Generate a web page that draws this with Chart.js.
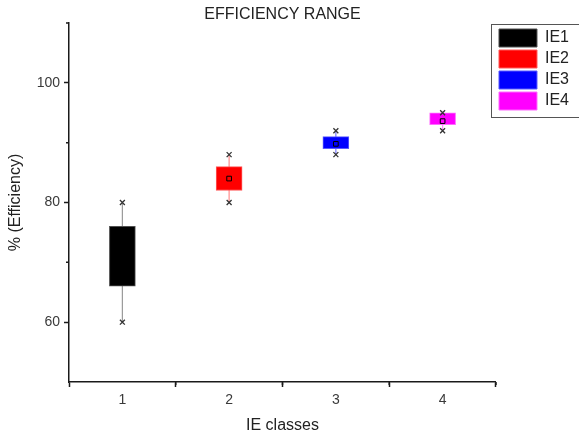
<!DOCTYPE html>
<html>
<head>
<meta charset="utf-8">
<title>Efficiency range</title>
<script src="https://cdn.jsdelivr.net/npm/chart.js@4.4.0/dist/chart.umd.min.js"></script>
<style>
    body { margin: 0; background: #fff; }
    #wrap { width: 579px; height: 435px; }
</style>
</head>
<body>
<div id="wrap"><canvas id="chart" width="579" height="435"></canvas></div>
<script>
// values
const classes = [1, 2, 3, 4];
const classNames = ['IE1', 'IE2', 'IE3', 'IE4'];
const whiskerLow = [60, 80, 88, 92];
const boxLow = [66, 82, 89, 93];
const boxHigh = [76, 86, 91, 95];
const whiskerHigh = [80, 88, 92, 95];
const means = [71, 84, 89.8, 93.6];
const xTicks = [1, 2, 3, 4];
const xMinorTicks = [1.5, 2.5, 3.5, 4.5];
const yTicks = [60, 80, 100];
const yMinorTicks = [70, 90, 110];

const boxColors = ['#000000', '#ff0000', '#0000ff', '#ff00ff'];
const boxEdges = ['#505050', '#ff5a5a', '#5a5aff', '#ff6aff'];
const whiskerColors = ['#9a9a9a', '#ff8c8c', '#7a7aff', '#ff8cff'];
const AXIS = '#1a1a1a';
const FONT = "'Liberation Sans', Arial, sans-serif";

const datasets = [];
classes.forEach((c, i) => {
    datasets.push({
        type: 'bar',
        label: classNames[i],
        data: [{ x: c, y: [boxLow[i], boxHigh[i]] }],
        backgroundColor: boxColors[i],
        borderColor: boxEdges[i],
        borderWidth: 1,
        borderSkipped: false,
        barThickness: 26,
        grouped: false,
        order: 2
    });
});
classes.forEach((c, i) => {
    datasets.push({
        type: 'line',
        label: 'whisker',
        data: [{ x: c, y: whiskerLow[i] }, { x: c, y: whiskerHigh[i] }],
        borderColor: whiskerColors[i],
        borderWidth: 1.2,
        pointRadius: 0,
        order: 3
    });
});
datasets.push({
    type: 'line',
    label: 'ends',
    data: classes.flatMap((c, i) => [{ x: c, y: whiskerLow[i] }, { x: c, y: whiskerHigh[i] }]),
    showLine: false,
    pointStyle: 'crossRot',
    pointRadius: 3.5,
    pointBorderColor: '#333',
    pointBorderWidth: 1.3,
    order: 1
});
datasets.push({
    type: 'line',
    label: 'mean',
    data: classes.map((c, i) => ({ x: c, y: means[i] })),
    showLine: false,
    pointStyle: 'rect',
    pointRadius: 3.3,
    pointBackgroundColor: 'rgba(0,0,0,0)',
    pointBorderColor: '#000',
    pointBorderWidth: 1,
    order: 0
});

// short ticks between the labelled ones
const minorTicks = {
    id: 'minorTicks',
    afterDraw(chart) {
        const { ctx, scales: { x, y } } = chart;
        ctx.save();
        ctx.strokeStyle = AXIS;
        ctx.lineWidth = 1.5;
        ctx.beginPath();
        xMinorTicks.forEach(v => {
            const px = x.getPixelForValue(v);
            ctx.moveTo(px, x.top);
            ctx.lineTo(px, x.top + 3);
        });
        yMinorTicks.forEach(v => {
            const py = y.getPixelForValue(v);
            ctx.moveTo(y.right, py);
            ctx.lineTo(y.right - 3, py);
        });
        ctx.stroke();
        ctx.restore();
    }
};

// frame round the legend, like the original
const legendFrame = {
    id: 'legendFrame',
    afterDraw(chart) {
        const boxes = chart.legend.legendHitBoxes;
        if (!boxes || !boxes.length) return;
        const first = boxes[0];
        const last = boxes[boxes.length - 1];
        const ctx = chart.ctx;
        ctx.save();
        ctx.strokeStyle = '#555';
        ctx.lineWidth = 1;
        ctx.strokeRect(Math.round(first.left - 8) + 0.5, Math.round(first.top - 5) + 0.5,
            chart.width, last.top + last.height - first.top + 12);
        ctx.restore();
    }
};

new Chart(document.getElementById('chart'), {
    type: 'bar',
    data: { datasets },
    options: {
        responsive: false,
        animation: false,
        layout: { padding: 0 },
        scales: {
            x: {
                type: 'linear',
                min: 0.5,
                max: 4.5,
                offset: false,
                afterBuildTicks: s => { s.ticks = xTicks.map(v => ({ value: v })); },
                afterFit: s => { s.height = 53; },
                grid: { display: true, drawOnChartArea: false, drawTicks: true, tickLength: 5, tickColor: AXIS, tickWidth: 1.5 },
                border: { display: true, color: AXIS, width: 1.5 },
                ticks: { color: '#3a3a3a', font: { family: FONT, size: 14 }, padding: 5, maxRotation: 0 },
                title: { display: true, text: 'IE classes', color: '#222', font: { family: FONT, size: 16 }, padding: { top: 0, bottom: 0 } }
            },
            y: {
                min: 50,
                max: 110,
                afterBuildTicks: s => { s.ticks = yTicks.map(v => ({ value: v })); },
                afterFit: s => { s.width = 69; },
                grid: { display: true, drawOnChartArea: false, drawTicks: true, tickLength: 5, tickColor: AXIS, tickWidth: 1.5 },
                border: { display: true, color: AXIS, width: 1.5 },
                ticks: { color: '#3a3a3a', font: { family: FONT, size: 14 }, padding: 4 },
                title: { display: true, text: '% (Efficiency)', color: '#222', font: { family: FONT, size: 16 }, padding: { top: 6, bottom: 0 } }
            }
        },
        plugins: {
            title: {
                display: true,
                text: 'EFFICIENCY RANGE',
                fullSize: false,
                color: '#222',
                font: { family: FONT, size: 16, weight: 'normal', lineHeight: 1 },
                padding: { top: 7, bottom: 0 }
            },
            legend: {
                position: 'right',
                align: 'start',
                fullSize: false,
                title: { display: true, text: '', padding: 0, font: { size: 3, lineHeight: 1 } },
                labels: {
                    filter: item => classNames.includes(item.text),
                    boxWidth: 38,
                    boxHeight: 18,
                    padding: 3,
                    color: '#222',
                    font: { family: FONT, size: 16 }
                }
            },
            tooltip: { enabled: false }
        }
    },
    plugins: [minorTicks, legendFrame]
});
</script>
</body>
</html>
